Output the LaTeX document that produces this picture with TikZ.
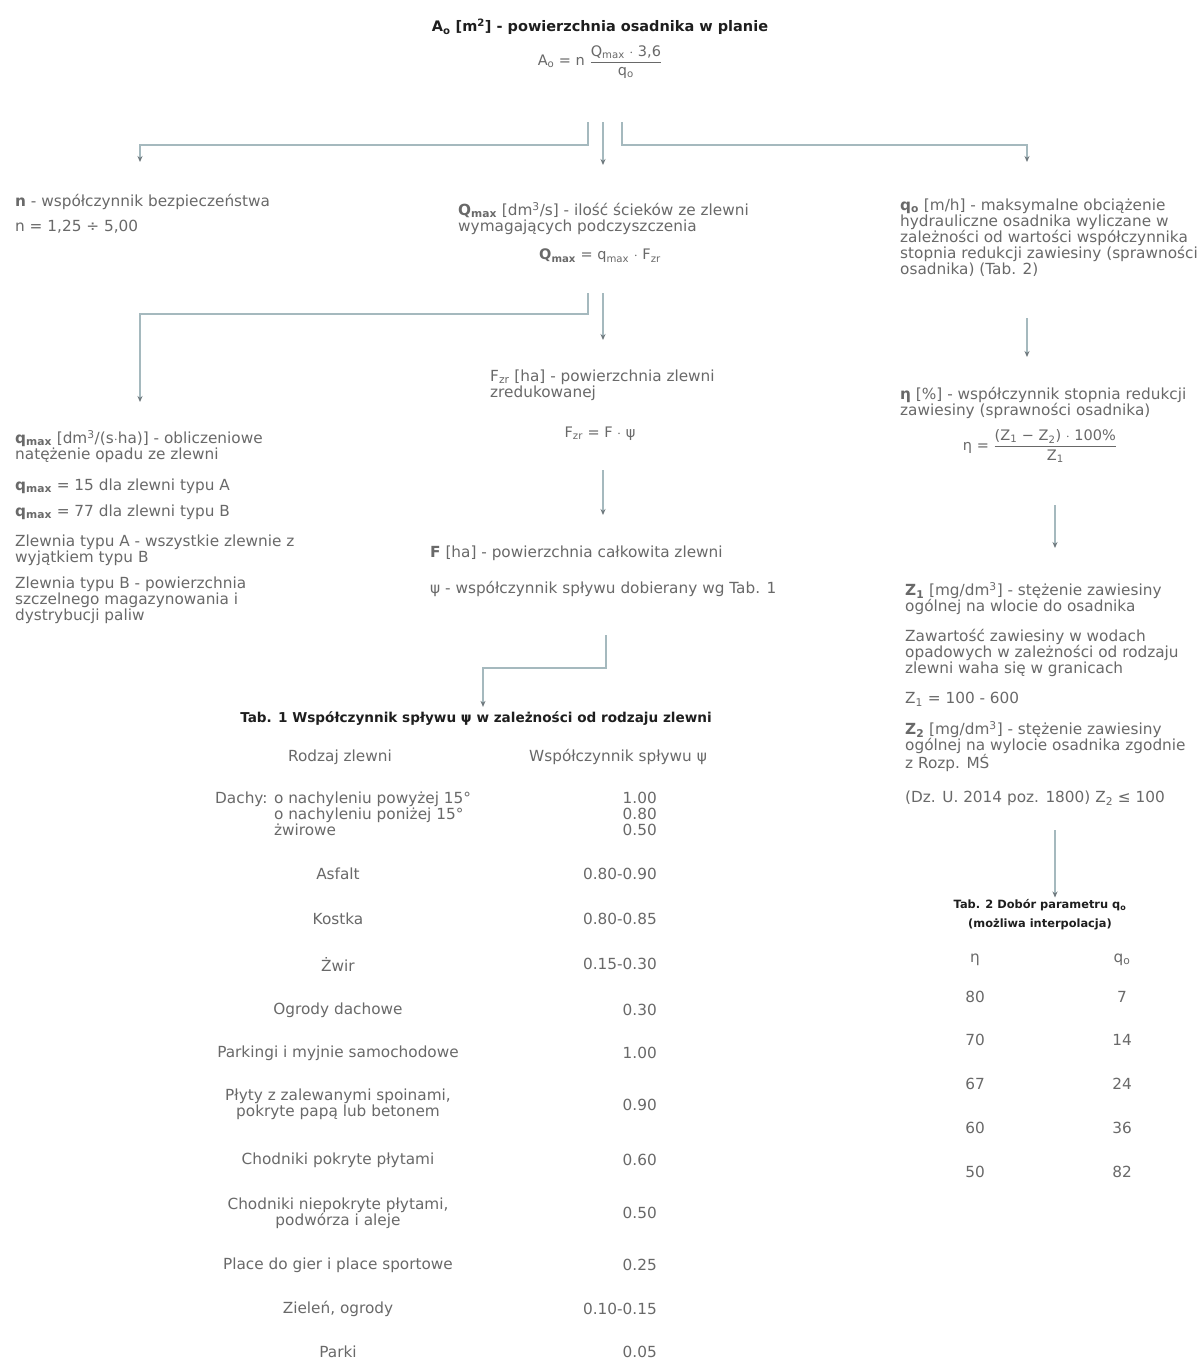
\documentclass[tikz,border=0pt]{standalone}
\usepackage{fontspec}
\setmainfont{DejaVu Sans}
\usepackage{amsmath}
\usetikzlibrary{arrows.meta}
\definecolor{txt}{RGB}{105,105,105}
\definecolor{ttl}{RGB}{30,30,30}
\definecolor{lnc}{RGB}{165,185,190}
\definecolor{arr}{RGB}{110,120,125}
\begin{document}
\begin{tikzpicture}[x=1pt,y=-1pt,
  body/.style={text=txt,font=\fontsize{15.3}{16}\selectfont,inner sep=0pt,align=left},
  cell/.style={text=txt,font=\fontsize{15.3}{16}\selectfont,inner sep=0pt,align=center},
  val/.style={text=txt,font=\fontsize{15.3}{16}\selectfont,inner sep=0pt,anchor=east,align=right},
  frm/.style={text=txt,font=\fontsize{14.5}{16}\selectfont,inner sep=0pt},
  ttlb/.style={text=ttl,font=\bfseries\fontsize{14.5}{17}\selectfont,inner sep=0pt,align=center},
  conn/.style={draw=lnc,line width=1.3pt,-{Stealth[length=6pt,width=5pt,color=arr]}}]
\useasboundingbox (0,0) rectangle (1201,1361);
\fill[white] (0,0) rectangle (1201,1361);

% title and main formula
\node[ttlb] (title) at (600,27) {A\textsubscript{o} [m\textsuperscript{2}] - powierzchnia osadnika w planie};
\node[frm] (fA) at (600,62) {A\textsubscript{o} = n $\dfrac{\text{Q\textsubscript{max} $\cdot$ 3,6}}{\text{q\textsubscript{o}}}$};

% first level
\node[body,anchor=north west] (nn) at (15,194) {\textbf{n} - współczynnik bezpieczeństwa\\[9pt]n = 1,25 ÷ 5,00};
\node[body,anchor=north west] (qm) at (458,202) {\textbf{Q\textsubscript{max}} [dm\textsuperscript{3}/s] - ilość ścieków ze zlewni\\wymagających podczyszczenia};
\node[frm] (fQ) at (600,256) {\textbf{Q\textsubscript{max}} = q\textsubscript{max} $\cdot$ F\textsubscript{zr}};
\node[body,anchor=north west] (qo) at (900,199) {\textbf{q\textsubscript{o}} [m/h] - maksymalne obciążenie\\hydrauliczne osadnika wyliczane w\\zależności od wartości współczynnika\\stopnia redukcji zawiesiny (sprawności\\osadnika) (Tab. 2)};

\coordinate (s1) at (588,122);
\coordinate (s2) at (603,122);
\coordinate (s3) at (622,122);
\draw[conn,shorten >=32pt] (s1) -- ++(0,23) -| ([xshift=125pt]nn.north west);
\draw[conn,shorten >=37pt] (s2) -- ([xshift=145pt]qm.north west);
\draw[conn,shorten >=37pt] (s3) -- ++(0,23) -| ([xshift=127pt]qo.north west);

% second level (middle)
\node[body,anchor=north west] (qmx) at (15,430) {\textbf{q\textsubscript{max}} [dm\textsuperscript{3}/(s$\cdot$ha)] - obliczeniowe\\natężenie opadu ze zlewni\\[15pt]\textbf{q\textsubscript{max}} = 15 dla zlewni typu A\\[10pt]\textbf{q\textsubscript{max}} = 77 dla zlewni typu B\\[14pt]Zlewnia typu A - wszystkie zlewnie z\\wyjątkiem typu B\\[10pt]Zlewnia typu B - powierzchnia\\szczelnego magazynowania i\\dystrybucji paliw};
\node[body,anchor=north west] (fz) at (490,370) {F\textsubscript{zr} [ha] - powierzchnia zlewni\\zredukowanej};
\node[frm] (fF) at (600,434) {F\textsubscript{zr} = F $\cdot$ ψ};
\node[body,anchor=north west] (ff) at (430,546) {\textbf{F} [ha] - powierzchnia całkowita zlewni\\[20pt]ψ - współczynnik spływu dobierany wg Tab. 1};

\coordinate (s4) at (588,293);
\coordinate (s5) at (603,293);
\draw[conn,shorten >=28pt] (s4) -- ++(0,21) -| ([xshift=125pt]qmx.north west);
\draw[conn,shorten >=30pt] (s5) -- ([xshift=113pt]fz.north west);
\coordinate (s6) at (603,470);
\draw[conn,shorten >=31pt] (s6) -- ([xshift=173pt]ff.north west);

% right chain
\node[body,anchor=north west] (eta) at (900,387) {\textbf{η} [\%] - współczynnik stopnia redukcji\\zawiesiny (sprawności osadnika)};
\node[frm] (fE) at (1040,446) {η = $\dfrac{\text{(Z\textsubscript{1} − Z\textsubscript{2}) $\cdot$ 100\%}}{\text{Z\textsubscript{1}}}$};
\node[body,anchor=north west] (zz) at (905,582) {\textbf{Z\textsubscript{1}} [mg/dm\textsuperscript{3}] - stężenie zawiesiny\\ogólnej na wlocie do osadnika\\[14pt]Zawartość zawiesiny w wodach\\opadowych w zależności od rodzaju\\zlewni waha się w granicach\\[14pt]Z\textsubscript{1} = 100 - 600\\[14pt]\textbf{Z\textsubscript{2}} [mg/dm\textsuperscript{3}] - stężenie zawiesiny\\ogólnej na wylocie osadnika zgodnie\\z Rozp. MŚ\\[18pt](Dz. U. 2014 poz. 1800) Z\textsubscript{2} ≤ 100};
\coordinate (s8) at (1027,318);
\draw[conn,shorten >=30pt] (s8) -- ([xshift=127pt]eta.north west);
\coordinate (s9) at (1055,505);
\draw[conn,shorten >=34pt] (s9) -- ([xshift=150pt]zz.north west);

% Tab. 2
\node[ttlb,font=\bfseries\fontsize{11.4}{19}\selectfont] (t2) at (1040,915) {Tab. 2 Dobór parametru q\textsubscript{o}\\(możliwa interpolacja)};
\coordinate (s10) at (1055,830);
\draw[conn] (s10) -- ([xshift=15pt,yshift=2pt]t2.north);
\node[cell] (h2a) at (975,960) {η};
\node[cell] (h2b) at (1122,960) {q\textsubscript{o}};
\node[cell] (r2a1) at (975,997) {80};  \node[cell] (r2b1) at (1122,997) {7};
\node[cell] (r2a2) at (975,1040) {70}; \node[cell] (r2b2) at (1122,1040) {14};
\node[cell] (r2a3) at (975,1084) {67}; \node[cell] (r2b3) at (1122,1084) {24};
\node[cell] (r2a4) at (975,1128) {60}; \node[cell] (r2b4) at (1122,1128) {36};
\node[cell] (r2a5) at (975,1172) {50}; \node[cell] (r2b5) at (1122,1172) {82};

% Tab. 1
\node[ttlb,font=\bfseries\fontsize{13.6}{17}\selectfont] (t1) at (476,718) {Tab. 1 Współczynnik spływu ψ w zależności od rodzaju zlewni};
\coordinate (s7) at (606,635);
\draw[conn] (s7) -- ++(0,33) -| ([xshift=7pt,yshift=4pt]t1.north);
\node[cell] (h1a) at (340,757) {Rodzaj zlewni};
\node[cell] (h1b) at (618,757) {Współczynnik spływu ψ};
\node[body,anchor=north west] (d1) at (215,792) {Dachy: o nachyleniu powyżej 15°\\\hphantom{Dachy: }o nachyleniu poniżej 15°\\\hphantom{Dachy: }żwirowe};
\node[val,anchor=north east] (v1) at (657,792) {1.00\\0.80\\0.50};
\node[cell] (d2) at (338,874) {Asfalt};  \node[val] (v2) at (657,874) {0.80-0.90};
\node[cell] (d3) at (338,919) {Kostka};  \node[val] (v3) at (657,919) {0.80-0.85};
\node[cell] (d4) at (338,964) {Żwir};  \node[val] (v4) at (657,964) {0.15-0.30};
\node[cell] (d5) at (338,1010) {Ogrody dachowe};  \node[val] (v5) at (657,1010) {0.30};
\node[cell] (d6) at (338,1053) {Parkingi i myjnie samochodowe};  \node[val] (v6) at (657,1053) {1.00};
\node[cell] (d7) at (338,1104) {Płyty z zalewanymi spoinami,\\pokryte papą lub betonem};  \node[val] (v7) at (657,1105) {0.90};
\node[cell] (d8) at (338,1160) {Chodniki pokryte płytami};  \node[val] (v8) at (657,1160) {0.60};
\node[cell] (d9) at (338,1213) {Chodniki niepokryte płytami,\\podwórza i aleje};  \node[val] (v9) at (657,1213) {0.50};
\node[cell] (d10) at (338,1265) {Place do gier i place sportowe};  \node[val] (v10) at (657,1265) {0.25};
\node[cell] (d11) at (338,1309) {Zieleń, ogrody};  \node[val] (v11) at (657,1309) {0.10-0.15};
\node[cell] (d12) at (338,1352) {Parki};  \node[val] (v12) at (657,1352) {0.05};
\end{tikzpicture}
\end{document}
